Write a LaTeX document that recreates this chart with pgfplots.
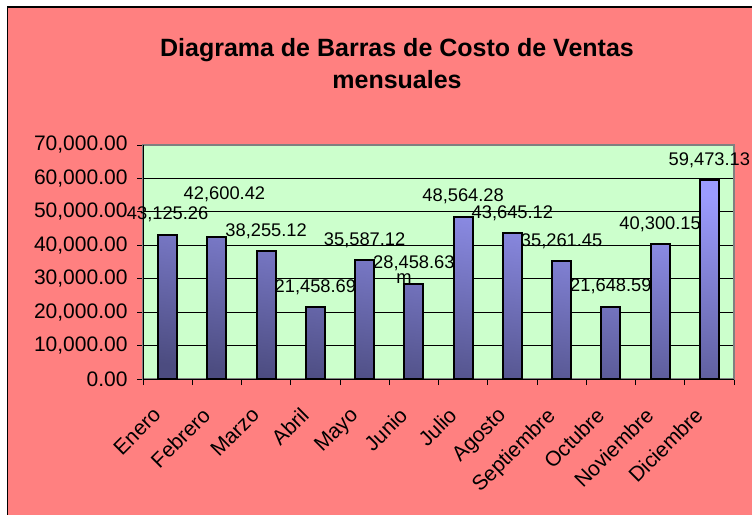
\documentclass[border=0pt]{standalone}
\usepackage{fontspec}
\setmainfont{Liberation Sans}
\usepackage{pgfplots}
\usepackage{pgfplotstable}
\pgfplotsset{compat=1.18}
\definecolor{salmon}{HTML}{FF8080}
\definecolor{plotbg}{HTML}{CCFFCC}
\definecolor{barlight}{HTML}{9C9CFF}
\definecolor{bardark}{HTML}{4C4C80}
\pgfplotstableread{
x y dx dy label
0 43125.26 0 15 43,125.26
1 42600.42 7.6 37 42,600.42
2 38255.12 0 15 38,255.12
3 21458.69 0 15 21,458.69
4 35587.12 0 15 35,587.12
5 28458.63 0 15 28,458.63
6 48564.28 0 15 48,564.28
7 43645.12 0 15 43,645.12
8 35261.45 0 15 35,261.45
9 21648.59 0 15 21,648.59
10 40300.15 0 15 40,300.15
11 59473.13 0 15 59,473.13
}\costos
\begin{document}
\begin{tikzpicture}
\useasboundingbox (0,0) rectangle (752bp,515bp);
\begin{scope}
\clip (0,0) rectangle (752bp,515bp);
\fill[white] (0,0) rectangle (752bp,515bp);
\filldraw[fill=salmon, draw=black, line width=1.5bp] (7.5bp,-20bp) rectangle (800bp,508bp);
\end{scope}
\node[anchor=base, inner sep=0pt, font=\fontsize{25bp}{30bp}\selectfont\bfseries] at (397bp,458.3bp) {Diagrama de Barras de Costo de Ventas};
\node[anchor=base, inner sep=0pt, font=\fontsize{25bp}{30bp}\selectfont\bfseries] at (397bp,426.7bp) {mensuales};
\begin{axis}[
  at={(143bp,136bp)}, anchor=south west,
  width=591bp, height=234bp, scale only axis,
  xmin=-0.5, xmax=11.5, ymin=0, ymax=70000,
  clip=false,
  axis background/.style={fill=plotbg},
  axis line style={draw=gray, line width=1.5bp},
  ytick={0,10000,...,70000},
  scaled y ticks=false,
  ymajorgrids, grid style={black, line width=0.8bp},
  xtick={0,...,11},
  xticklabels={Enero,Febrero,Marzo,Abril,Mayo,Junio,Julio,Agosto,Septiembre,Octubre,Noviembre,Diciembre},
  minor xtick={-0.5,0.5,...,11.5},
  tick align=outside, tick pos=left,
  major tick length=6bp, minor tick length=6bp,
  tick style={black, line width=1bp},
  major x tick style={draw=none},
  yticklabel style={xshift=-6bp, font=\fontsize{21bp}{25bp}\selectfont, /pgf/number format/fixed, /pgf/number format/fixed zerofill, /pgf/number format/precision=2, /pgf/number format/1000 sep={,}, /pgf/number format/assume math mode=true},
  xticklabel style={xshift=-16bp, yshift=-21bp, rotate=45, anchor=north east, inner sep=0pt, font=\fontsize{21bp}{25bp}\selectfont},
]
\addplot[ybar, bar width=19bp, bar shift=0pt, draw=black, line width=2bp, top color=barlight, bottom color=bardark, shading angle=-8]
  table[x=x, y=y] {\costos};
\addplot[draw=none, mark=none, nodes near coords, point meta=explicit symbolic,
  visualization depends on={\thisrow{dx}\as\dx},
  visualization depends on={\thisrow{dy}\as\dy},
  every node near coord/.append style={anchor=base, inner sep=0pt, text=black, xshift=\dx, yshift=\dy, font=\fontsize{18.3bp}{22bp}\selectfont}]
  table[x=x, y=y, meta=label] {\costos};
\node[anchor=base, inner sep=0pt, text=black, font=\fontsize{18.3bp}{22bp}\selectfont, xshift=-10bp] at (axis cs:5,28458.63) {m};
\draw[black, line width=1bp] (rel axis cs:0,1) -- (rel axis cs:0,0) -- (rel axis cs:1,0);
\end{axis}
\end{tikzpicture}
\end{document}
